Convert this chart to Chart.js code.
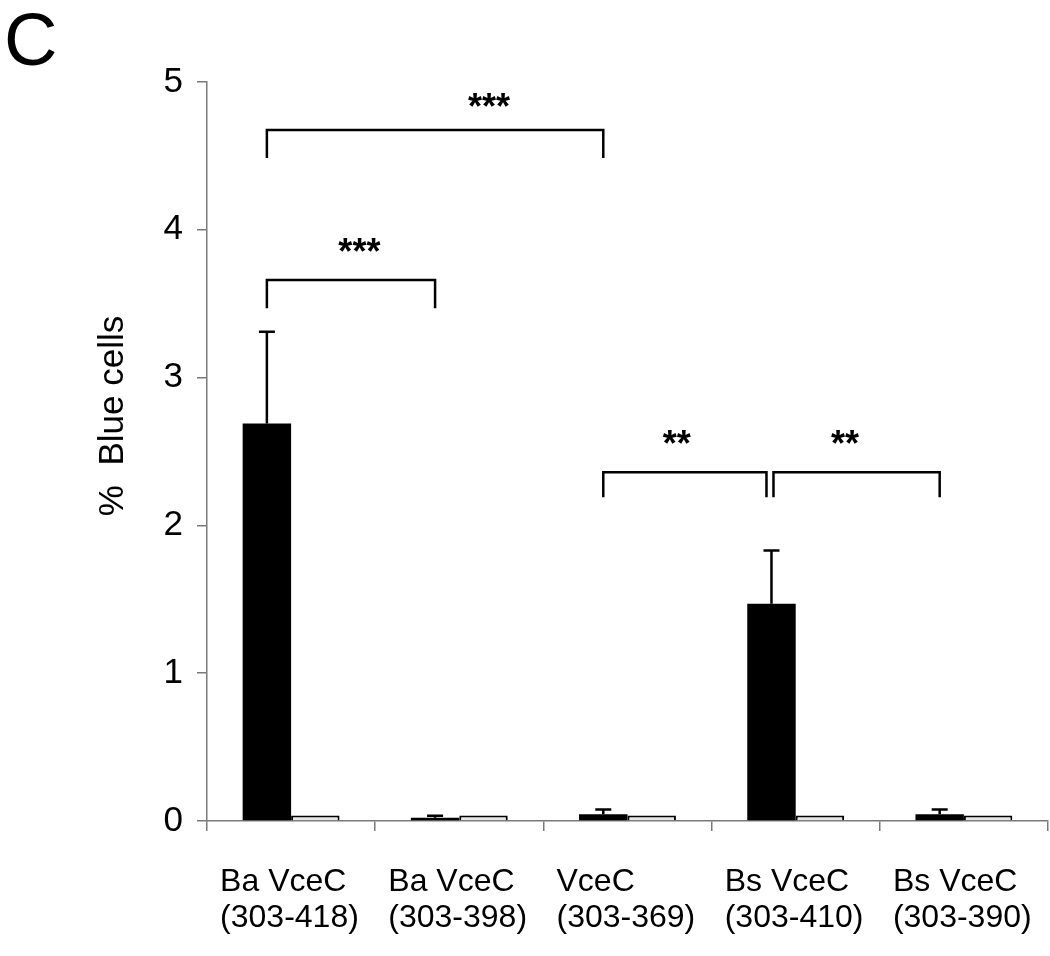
<!DOCTYPE html>
<html>
<head>
<meta charset="utf-8">
<script src="https://cdn.jsdelivr.net/npm/chart.js@4.4.1/dist/chart.umd.min.js"></script>
<style>
  html, body { margin: 0; padding: 0; background: #fff; }
  canvas { display: block; }
</style>
</head>
<body>
<canvas id="chart-blue" width="1050" height="956"></canvas>
<script>
// Data Start
const categories = [
    ["Ba VceC", "(303-418)"],
    ["Ba VceC", "(303-398)"],
    ["VceC", "(303-369)"],
    ["Bs VceC", "(303-410)"],
    ["Bs VceC", "(303-390)"],
];
const black_values = [2.69, 0.022, 0.045, 1.47, 0.045];
const black_errors = [3.31, 0.035, 0.077, 1.83, 0.077];
const white_values = [0.038, 0.038, 0.038, 0.038, 0.038];
const y_ticks = [0, 1, 2, 3, 4, 5];

// brackets: from bar, to bar, top level, drop level, stars, star height, star position along bracket
const bracket_from = [0, 0, 2, 3];
const bracket_to = [2, 1, 3, 4];
const bracket_top = [4.675, 3.66, 2.36, 2.36];
const bracket_drop = [4.486, 3.47, 2.19, 2.19];
const bracket_stars = ["***", "***", "**", "**"];
const star_level = [4.878, 3.897, 2.598, 2.598];
const star_pos = [0.66, 0.55, 0.45, 0.43];
// Data End

const FONT = "'Liberation Sans', Arial, sans-serif";

// Plugin: error bars, brackets, stars, axis title, panel letter
const extras = {
    id: "extras",
    afterDatasetsDraw(chart) {
        const ctx = chart.ctx;
        const y = chart.scales.y;
        const meta0 = chart.getDatasetMeta(0);

        // error bars (upper only)
        ctx.save();
        ctx.strokeStyle = "#000";
        ctx.lineWidth = 2.5;
        meta0.data.forEach((bar, i) => {
            const top = y.getPixelForValue(black_errors[i]);
            ctx.beginPath();
            ctx.moveTo(bar.x, bar.y);
            ctx.lineTo(bar.x, top);
            ctx.moveTo(bar.x - 8, top);
            ctx.lineTo(bar.x + 8, top);
            ctx.stroke();
        });

        // significance brackets
        bracket_from.forEach((from, k) => {
            let x1 = meta0.data[from].x;
            let x2 = meta0.data[bracket_to[k]].x;
            if (k === 2) x2 -= 5;
            if (k === 3) x1 += 2;
            const yt = y.getPixelForValue(bracket_top[k]);
            const yd = y.getPixelForValue(bracket_drop[k]);
            ctx.beginPath();
            ctx.moveTo(x1, yd);
            ctx.lineTo(x1, yt);
            ctx.lineTo(x2, yt);
            ctx.lineTo(x2, yd);
            ctx.stroke();

            ctx.fillStyle = "#000";
            ctx.font = "bold 36px " + FONT;
            ctx.textAlign = "center";
            ctx.textBaseline = "alphabetic";
            const sx = x1 + (x2 - x1) * star_pos[k];
            ctx.fillText(bracket_stars[k], sx, y.getPixelForValue(star_level[k]) + 19);
        });
        ctx.restore();
    },
    afterDraw(chart) {
        const ctx = chart.ctx;
        ctx.save();
        ctx.fillStyle = "#000";

        // y axis title
        ctx.font = "35px " + FONT;
        ctx.translate(123, 416);
        ctx.rotate(-Math.PI / 2);
        ctx.textAlign = "center";
        ctx.textBaseline = "alphabetic";
        ctx.fillText("%  Blue cells", 0, 0);
        ctx.restore();

        // panel letter
        ctx.save();
        ctx.fillStyle = "#000";
        ctx.font = "74px " + FONT;
        ctx.textAlign = "left";
        ctx.textBaseline = "alphabetic";
        ctx.fillText("C", 4, 65);
        ctx.restore();
    },
};

// Chart Start
const blue = document.getElementById("chart-blue");
new Chart(blue, {
    type: "bar",
    data: {
        labels: categories,
        datasets: [
            {
                data: black_values,
                backgroundColor: "#000",
                borderWidth: 0,
                categoryPercentage: 0.576,
                barPercentage: 1.0,
            },
            {
                data: white_values,
                backgroundColor: "#e6e6e6",
                borderColor: "#000",
                borderWidth: 2,
                categoryPercentage: 0.576,
                barPercentage: 1.0,
            },
        ],
    },
    options: {
        responsive: false,
        animation: false,
        layout: {
            padding: { left: 0, top: 82, right: 2, bottom: 0 },
        },
        plugins: {
            legend: { display: false },
            tooltip: { enabled: false },
        },
        scales: {
            x: {
                grid: {
                    drawOnChartArea: false,
                    drawTicks: true,
                    tickLength: 10,
                    color: "#7a7a7a",
                    lineWidth: 1.5,
                },
                border: { color: "#7a7a7a", width: 1.5 },
                ticks: {
                    color: "#000",
                    font: { family: FONT, size: 32, lineHeight: 1.1 },
                    align: "start",
                    labelOffset: -71,
                    padding: 34,
                    maxRotation: 0,
                    autoSkip: false,
                },
                afterFit: (s) => {
                    s.height = 135;
                    s.paddingLeft = 0;
                    s.paddingRight = 0;
                },
            },
            y: {
                min: 0,
                max: 5,
                afterBuildTicks: (s) => { s.ticks = y_ticks.map((v) => ({ value: v })); },
                grid: {
                    drawOnChartArea: false,
                    drawTicks: true,
                    tickLength: 10,
                    color: "#7a7a7a",
                    lineWidth: 1.5,
                },
                border: { color: "#7a7a7a", width: 1.5 },
                ticks: {
                    color: "#000",
                    font: { family: FONT, size: 35 },
                    padding: 14,
                },
                afterFit: (s) => { s.width = 207; },
            },
        },
    },
    plugins: [extras],
});
// Chart End
</script>
</body>
</html>
